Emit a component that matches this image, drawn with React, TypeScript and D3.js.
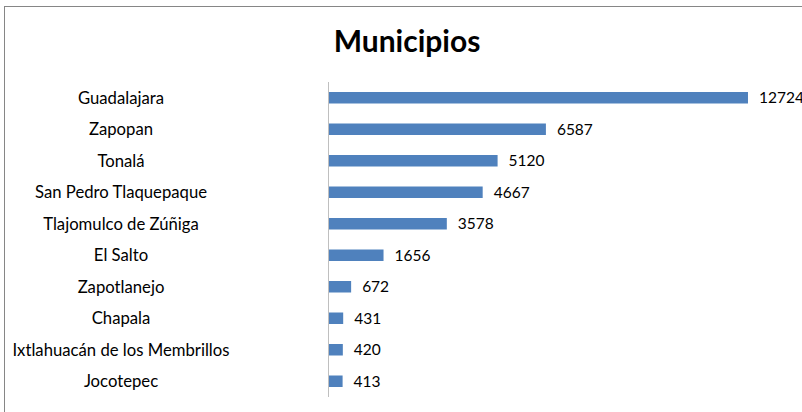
import { useEffect, useRef } from 'react'
import * as d3 from 'd3'

const municipios = [
  'Guadalajara',
  'Zapopan',
  'Tonalá',
  'San Pedro Tlaquepaque',
  'Tlajomulco de Zúñiga',
  'El Salto',
  'Zapotlanejo',
  'Chapala',
  'Ixtlahuacán de los Membrillos',
  'Jocotepec',
]
const valores = [12724, 6587, 5120, 4667, 3578, 1656, 672, 431, 420, 413]
const axisMax = 14000

const width = 802
const height = 412

export default function App() {
  const ref = useRef<SVGSVGElement>(null)

  useEffect(() => {
    const svg = d3.select(ref.current)
    svg.selectAll('*').remove()

    const font = "Lato, 'Open Sans', sans-serif"

    // chart frame, cropped at right/bottom like the screenshot
    svg.append('rect')
      .attr('x', 4.5)
      .attr('y', 6.5)
      .attr('width', width + 20)
      .attr('height', height + 20)
      .attr('fill', '#fff')
      .attr('stroke', '#868686')
      .attr('stroke-width', 1)

    svg.append('text')
      .attr('x', 407)
      .attr('y', 52)
      .attr('text-anchor', 'middle')
      .attr('font-family', font)
      .attr('font-weight', 'bold')
      .attr('font-size', 30)
      .attr('fill', '#000')
      .text('Municipios')

    const y = d3.scaleBand()
      .domain(municipios)
      .range([82, 397])
      .padding(0)
    const x = d3.scaleLinear()
      .domain([0, axisMax])
      .range([329, 790])

    const barH = 11.5

    svg.selectAll('rect.bar')
      .data(valores)
      .enter()
      .append('rect')
      .attr('class', 'bar')
      .attr('x', x(0))
      .attr('y', (d, i) => y(municipios[i])! + y.bandwidth() / 2 - barH / 2)
      .attr('width', d => x(d) - x(0))
      .attr('height', barH)
      .attr('fill', '#4f81bd')

    svg.append('line')
      .attr('x1', x(0) - 0.5)
      .attr('x2', x(0) - 0.5)
      .attr('y1', 82)
      .attr('y2', 397)
      .attr('stroke', '#bfbfbf')
      .attr('stroke-width', 1)

    svg.selectAll('text.cat')
      .data(municipios)
      .enter()
      .append('text')
      .attr('class', 'cat')
      .attr('x', 121)
      .attr('y', d => y(d)! + y.bandwidth() / 2)
      .attr('dy', '0.35em')
      .attr('text-anchor', 'middle')
      .attr('font-family', font)
      .attr('font-size', 16.7)
      .attr('fill', '#000')
      .text(d => d)

    svg.selectAll('text.val')
      .data(valores)
      .enter()
      .append('text')
      .attr('class', 'val')
      .attr('x', d => x(d) + 11)
      .attr('y', (d, i) => y(municipios[i])! + y.bandwidth() / 2)
      .attr('dy', '0.35em')
      .attr('font-family', font)
      .attr('font-size', 15.5)
      .attr('fill', '#000')
      .text(d => String(d))
  }, [])

  return (
    <svg
      ref={ref}
      width={width}
      height={height}
      style={{ position: 'absolute', left: 0, top: 0, display: 'block', background: '#fff' }}
    />
  )
}
